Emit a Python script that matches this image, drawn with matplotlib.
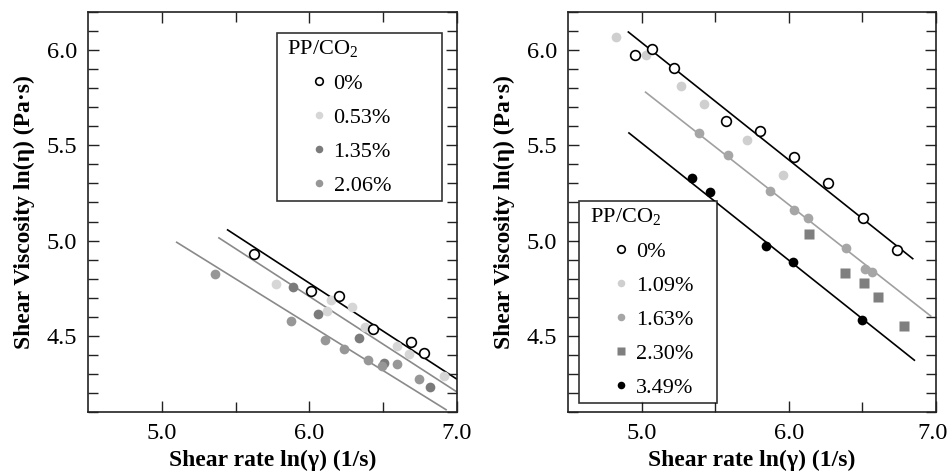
import matplotlib
matplotlib.use("Agg")
import matplotlib.pyplot as plt
from matplotlib.ticker import MultipleLocator, FixedLocator
from matplotlib.legend_handler import HandlerLine2D
from matplotlib.lines import Line2D
from matplotlib.transforms import ScaledTranslation

plt.rcParams['font.family'] = ['Liberation Serif', 'DejaVu Serif']
plt.rcParams['mathtext.fontset'] = 'custom'
plt.rcParams['mathtext.rm'] = 'Liberation Serif'

# ---------------- Left panel data ----------------
L_labels = ["0%", "0.53%", "1.35%", "2.06%"]
L0_x = [5.626, 6.009, 6.200, 6.432, 6.687, 6.775]
L0_y = [4.928, 4.737, 4.707, 4.535, 4.465, 4.412]
L1_x = [5.773, 6.144, 6.122, 6.288, 6.378, 6.595, 6.673, 6.910]
L1_y = [4.774, 4.688, 4.632, 4.649, 4.547, 4.446, 4.404, 4.288]
L2_x = [5.890, 6.059, 6.336, 6.505, 6.818]
L2_y = [4.754, 4.616, 4.486, 4.358, 4.232]
L3_x = [5.360, 5.876, 6.106, 6.234, 6.399, 6.493, 6.595, 6.745]
L3_y = [4.826, 4.579, 4.477, 4.430, 4.375, 4.342, 4.354, 4.272]
# fit lines (endpoints)
Lfit_a_x = [5.446, 7.000]; Lfit_a_y = [5.056, 4.272]
Lfit_b_x = [5.387, 7.000]; Lfit_b_y = [5.014, 4.205]
Lfit_c_x = [5.101, 6.926]; Lfit_c_y = [4.991, 4.112]

# ---------------- Right panel data ----------------
R_labels = ["0%", "1.09%", "1.63%", "2.30%", "3.49%"]
R0_x = [4.955, 5.068, 5.217, 5.576, 5.804, 6.034, 6.264, 6.501, 6.734]
R0_y = [5.975, 6.004, 5.904, 5.628, 5.575, 5.440, 5.300, 5.118, 4.953]
R1_x = [4.824, 5.027, 5.266, 5.427, 5.713, 5.962]
R1_y = [6.067, 5.972, 5.814, 5.716, 5.526, 5.342]
R2_x = [5.388, 5.587, 5.869, 6.036, 6.131, 6.391, 6.519, 6.564]
R2_y = [5.563, 5.451, 5.258, 5.161, 5.116, 4.963, 4.849, 4.835]
R3_x = [6.135, 6.381, 6.508, 6.603, 6.786]
R3_y = [5.037, 4.828, 4.775, 4.704, 4.549]
R4_x = [5.341, 5.465, 5.847, 6.029, 6.494]
R4_y = [5.330, 5.254, 4.970, 4.889, 4.582]
Rfit_a_x = [4.910, 6.842]; Rfit_a_y = [6.095, 4.905]
Rfit_b_x = [5.027, 6.964]; Rfit_b_y = [5.779, 4.604]
Rfit_c_x = [4.914, 6.853]; Rfit_c_y = [5.565, 4.372]


class RightMarkerHandler(HandlerLine2D):
    """Place the single legend marker near the right end of the handle area."""
    def get_xdata(self, legend, xdescent, ydescent, width, height, fontsize):
        xdata = [-xdescent + 0.66 * width, -xdescent + width]
        xdata_marker = [-xdescent + 0.83 * width]
        return xdata, xdata_marker


W, H = 949, 472
fig = plt.figure(figsize=(W / 100, H / 100), dpi=100)
axL = fig.add_axes([88 / W, 1 - 412 / H, (457 - 88) / W, (412 - 12) / H])
axR = fig.add_axes([568 / W, 1 - 412 / H, (936 - 568) / W, (412 - 12) / H])

ms = 7.0
def style(ax):
    ax.set_xlim(4.5, 7.0)
    ax.set_ylim(4.1, 6.2)
    ax.xaxis.set_major_locator(FixedLocator([5.0, 6.0, 7.0]))
    ax.xaxis.set_minor_locator(FixedLocator([5.5, 6.5]))
    ax.yaxis.set_major_locator(FixedLocator([4.5, 5.0, 5.5, 6.0]))
    ax.yaxis.set_minor_locator(MultipleLocator(0.1))
    ax.set_xticklabels(["5.0", "6.0", "7.0"])
    ax.set_yticklabels(["4.5", "5.0", "5.5", "6.0"])
    ax.tick_params(which='both', direction='in', top=True, right=True,
                   labelsize=17.5, width=1.0, color='#222222')
    ax.tick_params(which='major', length=8, pad=8)
    ax.tick_params(which='minor', length=7)
    for s in ax.spines.values():
        s.set_linewidth(1.2)
        s.set_color('#222222')
    ax.set_xlabel("Shear rate ln(\u03b3) (1/s)", fontsize=17, fontweight='bold', labelpad=4)
    ax.set_ylabel("Shear Viscosity ln(\u03b7) (Pa\u00b7s)", fontsize=17, fontweight='bold', labelpad=8)

leg_kw = dict(title=" PP/CO$_2$", fontsize=16, title_fontsize=16, frameon=True,
              fancybox=False, edgecolor='black', handlelength=2.0, handletextpad=0.3,
              labelspacing=0.6, borderpad=0.25, borderaxespad=0.0, markerscale=0.78,
              mode='expand', handler_map={Line2D: RightMarkerHandler()})

# Left
style(axL)
axL.plot(Lfit_c_x, Lfit_c_y, color='#8a8a8a', lw=1.2, zorder=1)
axL.plot(Lfit_b_x, Lfit_b_y, color='#8a8a8a', lw=1.2, zorder=1)
axL.plot(Lfit_a_x, Lfit_a_y, color='black', lw=1.2, zorder=1)
axL.plot(L1_x, L1_y, 'o', ms=ms, mfc='#d6d6d6', mec='none', label=L_labels[1], zorder=3)
axL.plot(L2_x, L2_y, 'o', ms=ms, mfc='#7b7b7b', mec='none', label=L_labels[2], zorder=3)
axL.plot(L3_x, L3_y, 'o', ms=ms, mfc='#979797', mec='none', label=L_labels[3], zorder=3)
axL.plot(L0_x, L0_y, 'o', ms=ms, mfc='white', mec='black', mew=1.2, label=L_labels[0], zorder=4)
h, l = axL.get_legend_handles_labels()
order = [3, 0, 1, 2]
legL = axL.legend([h[i] for i in order], [l[i] for i in order], loc='upper left',
                  bbox_to_anchor=(0.512, 0.5325, 0.447, 0.415), **leg_kw)
legL.get_frame().set_linewidth(1.2)
legL._legend_box.align = "left"

# Right
style(axR)
axR.plot(Rfit_a_x, Rfit_a_y, color='black', lw=1.2, zorder=1)
axR.plot(Rfit_b_x, Rfit_b_y, color='#a0a0a0', lw=1.2, zorder=1)
axR.plot(Rfit_c_x, Rfit_c_y, color='black', lw=1.2, zorder=1)
axR.plot(R0_x, R0_y, 'o', ms=ms, mfc='white', mec='black', mew=1.2, label=R_labels[0], zorder=4)
axR.plot(R1_x, R1_y, 'o', ms=ms, mfc='#cfcfcf', mec='none', label=R_labels[1], zorder=3)
axR.plot(R2_x, R2_y, 'o', ms=ms, mfc='#a6a6a6', mec='none', label=R_labels[2], zorder=3)
axR.plot(R3_x, R3_y, 's', ms=ms * 0.95, mfc='#7f7f7f', mec='none', label=R_labels[3], zorder=3)
axR.plot(R4_x, R4_y, 'o', ms=ms, mfc='black', mec='none', label=R_labels[4], zorder=3)
legR = axR.legend(loc='lower left', bbox_to_anchor=(0.0299, 0.0218, 0.375, 0.5), **leg_kw)
legR.get_frame().set_linewidth(1.2)
legR._legend_box.align = "left"

# nudge the last x tick label of the right panel so it stays inside the figure
last = axR.xaxis.get_major_ticks()[-1].label1
last.set_transform(last.get_transform() + ScaledTranslation(-3 / 100, 0, fig.dpi_scale_trans))

fig.savefig("out.png", dpi=100)
